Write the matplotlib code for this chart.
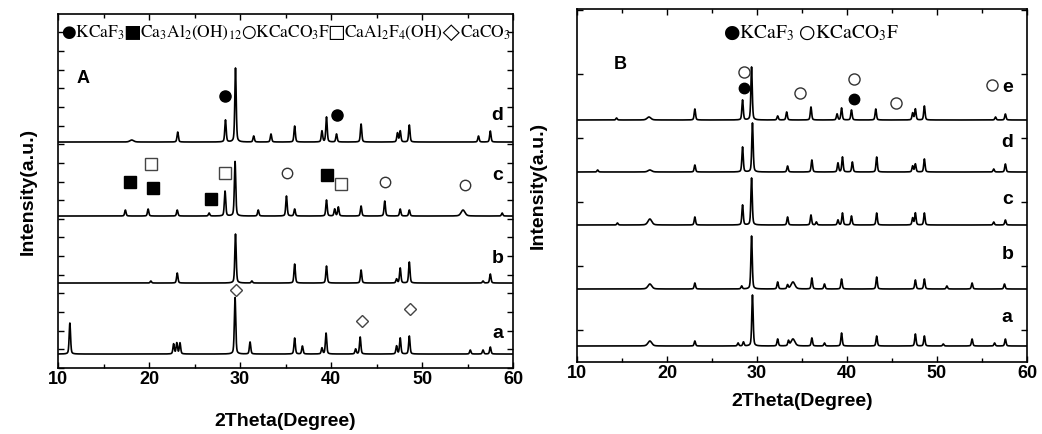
import numpy as np
import matplotlib
matplotlib.use('Agg')
import matplotlib.pyplot as plt
from matplotlib.ticker import MultipleLocator, NullFormatter

plt.rcParams['font.family'] = ['Liberation Sans', 'DejaVu Sans']
plt.rcParams['mathtext.fontset'] = 'stix'

# ---- panel A: peak positions (2theta) and heights ----
A_names = ['a', 'b', 'c', 'd']
A_base = [14, 85, 152, 226]
A_pos = {
    'a': [11.3, 22.7, 23.05, 23.4, 29.45, 31.1, 36.0, 36.85, 39.0, 39.45, 42.7, 43.2, 47.2, 47.6, 48.6, 55.3, 56.7, 57.5],
    'b': [20.2, 23.1, 29.5, 31.3, 36.0, 39.5, 43.3, 47.2, 47.6, 48.6, 56.7, 57.5],
    'c': [17.4, 19.9, 23.1, 26.6, 28.35, 29.45, 32.0, 35.1, 36.0, 39.5, 40.4, 40.8, 43.3, 45.9, 47.6, 48.6, 54.5, 58.8],
    'd': [18.1, 23.15, 28.4, 29.5, 31.5, 33.4, 36.0, 39.0, 39.5, 40.6, 43.3, 47.3, 47.6, 48.6, 56.2, 57.5],
}
A_hgt = {
    'a': [31, 10, 11, 11, 57, 12, 16, 8, 6, 21, 5, 17, 8, 16, 18, 4, 4, 7],
    'b': [2, 10, 49, 2, 19, 17, 13, 4, 15, 21, 2, 9],
    'c': [6, 7, 6, 3, 25, 55, 6, 20, 7, 16, 7, 9, 10, 15, 7, 6, 6, 3],
    'd': [2, 10, 22, 74, 6, 8, 16, 11, 25, 8, 18, 9, 11, 17, 6, 11],
}
A_broad = [18.1, 54.5]
A_label_y = [35, 110, 193, 253]

# phase markers in panel A (x, y)
A_kcaf3 = ([28.35, 40.7], [272, 253])
A_ca3al2 = ([17.9, 20.4, 26.8, 39.6], [186, 180, 169, 193])
A_kcaco3f = ([35.2, 45.9, 54.7], [195, 186, 183])
A_caal2f4 = ([20.2, 28.4, 41.1], [204, 195, 184])
A_caco3 = ([29.6, 43.4, 48.7], [78, 47, 59])

# ---- panel B ----
B_names = ['a', 'b', 'c', 'd', 'e']
B_base = [16, 73, 137, 190, 242]
B_pos = {
    'a': [18.1, 23.1, 27.9, 28.5, 29.5, 32.3, 33.5, 34.0, 36.1, 37.5, 39.4, 43.3, 47.6, 48.6, 50.7, 53.9, 56.4, 57.6],
    'b': [18.1, 23.1, 28.3, 29.4, 32.3, 33.4, 34.0, 36.1, 37.5, 39.4, 43.3, 47.6, 48.6, 51.1, 53.9, 57.5],
    'c': [14.5, 18.1, 23.1, 28.4, 29.4, 33.4, 36.0, 36.6, 39.0, 39.5, 40.5, 43.3, 47.3, 47.6, 48.6, 56.3, 57.6],
    'd': [12.3, 18.1, 23.1, 28.4, 29.5, 33.4, 36.1, 39.0, 39.5, 40.6, 43.3, 47.3, 47.6, 48.6, 56.3, 57.6],
    'e': [14.4, 18.0, 23.1, 28.4, 29.4, 32.3, 33.3, 36.0, 38.9, 39.4, 40.5, 43.2, 47.3, 47.6, 48.6, 56.5, 57.6],
}
B_hgt = {
    'a': [5, 5, 3, 4, 51, 7, 5, 7, 8, 3, 13, 10, 12, 10, 2, 7, 3, 7],
    'b': [5, 6, 3, 53, 7, 4, 7, 11, 5, 10, 12, 9, 10, 3, 6, 5],
    'c': [2, 6, 8, 20, 47, 8, 10, 3, 5, 12, 9, 12, 7, 12, 12, 3, 5],
    'd': [2, 2, 7, 25, 49, 6, 12, 9, 15, 10, 15, 6, 8, 13, 3, 8],
    'e': [2, 3, 11, 20, 53, 4, 8, 13, 6, 12, 10, 11, 7, 11, 14, 3, 6],
}
B_broad = [18.1, 18.0, 34.0]
B_label_y = [44, 107, 162, 219, 274]

B_kcaf3 = ([28.55, 40.8], [274, 263])
B_kcaco3f = ([28.55, 34.8, 40.8, 45.4, 56.15], [290, 269, 283, 259, 277])

x = np.arange(10, 60.001, 0.02)


def pattern(pos, hgt, base, broad):
    # pseudo-Voigt peaks on a flat baseline
    y = np.full_like(x, float(base))
    for p, h in zip(pos, hgt):
        w = 0.25 if p in broad else 0.09
        d = (x - p) / w
        y += h * (0.4 / (1 + d ** 2) + 0.6 * np.exp(-np.log(2) * d ** 2))
    return y


def style(ax, ymax, ystep, ystart, ylpad):
    ax.set_xlim(10, 60)
    ax.set_ylim(0, ymax)
    ax.xaxis.set_major_locator(MultipleLocator(10))
    ax.xaxis.set_minor_locator(MultipleLocator(5))
    ax.set_yticks(np.arange(ystart, ymax, ystep))
    ax.yaxis.set_major_formatter(NullFormatter())
    ax.tick_params(which='both', direction='in', top=True, right=True, width=1.0)
    ax.tick_params(which='major', length=4)
    ax.tick_params(which='minor', length=3)
    ax.tick_params(axis='x', labelsize=13, pad=2)
    for lab in ax.get_xticklabels():
        lab.set_fontweight('bold')
    for s in ax.spines.values():
        s.set_linewidth(1.2)
    ax.set_ylabel('Intensity(a.u.)', fontsize=14, fontweight='bold', labelpad=ylpad)


fig = plt.figure(figsize=(10.42, 4.34), dpi=100)
axA = fig.add_axes([0.0557, 0.152, 0.4367, 0.8157])
axB = fig.add_axes([0.5537, 0.1659, 0.4319, 0.8134])

for n, b, ly in zip(A_names, A_base, A_label_y):
    axA.plot(x, pattern(A_pos[n], A_hgt[n], b, A_broad), color='black', lw=1.2)
    axA.text(58.3, ly, n, fontsize=14, fontweight='bold', ha='center', va='center')

axA.plot(*A_kcaf3, 'o', color='black', ms=8)
axA.plot(*A_ca3al2, 's', color='black', ms=8)
axA.plot(*A_kcaco3f, 'o', mfc='white', mec='#333333', mew=1.0, ms=7.5)
axA.plot(*A_caal2f4, 's', mfc='white', mec='#444444', mew=1.0, ms=8)
axA.plot(*A_caco3, 'D', mfc='white', mec='#444444', mew=1.0, ms=6.5)
axA.text(12.75, 290, 'A', fontsize=13, fontweight='bold', ha='center', va='center')
axA.text(35, 335, '●KCaF$_3$■Ca$_3$Al$_2$(OH)$_{12}$○KCaCO$_3$F□CaAl$_2$F$_4$(OH)◇CaCO$_3$',
         fontsize=12.5, family='STIXGeneral', ha='center', va='center')
style(axA, 354, 18.65, 0, 12)
axA.set_xlabel('2Theta(Degree)', fontsize=14, fontweight='bold', labelpad=18)

for n, b, ly in zip(B_names, B_base, B_label_y):
    axB.plot(x, pattern(B_pos[n], B_hgt[n], b, B_broad), color='black', lw=1.2)
    axB.text(57.8, ly, n, fontsize=14, fontweight='bold', ha='center', va='center')

axB.plot(*B_kcaf3, 'o', color='black', ms=7.5)
axB.plot(*B_kcaco3f, 'o', mfc='white', mec='#333333', mew=1.0, ms=8)
axB.text(14.8, 297, 'B', fontsize=13, fontweight='bold', ha='center', va='center')
axB.text(36.0, 329, '●KCaF$_3$ ○KCaCO$_3$F', fontsize=14, family='STIXGeneral',
         ha='center', va='center')
style(axB, 353, 64, 32, 18)
axB.set_xlabel('2Theta(Degree)', fontsize=14, fontweight='bold', labelpad=8)

fig.savefig('out.png', dpi=100)
